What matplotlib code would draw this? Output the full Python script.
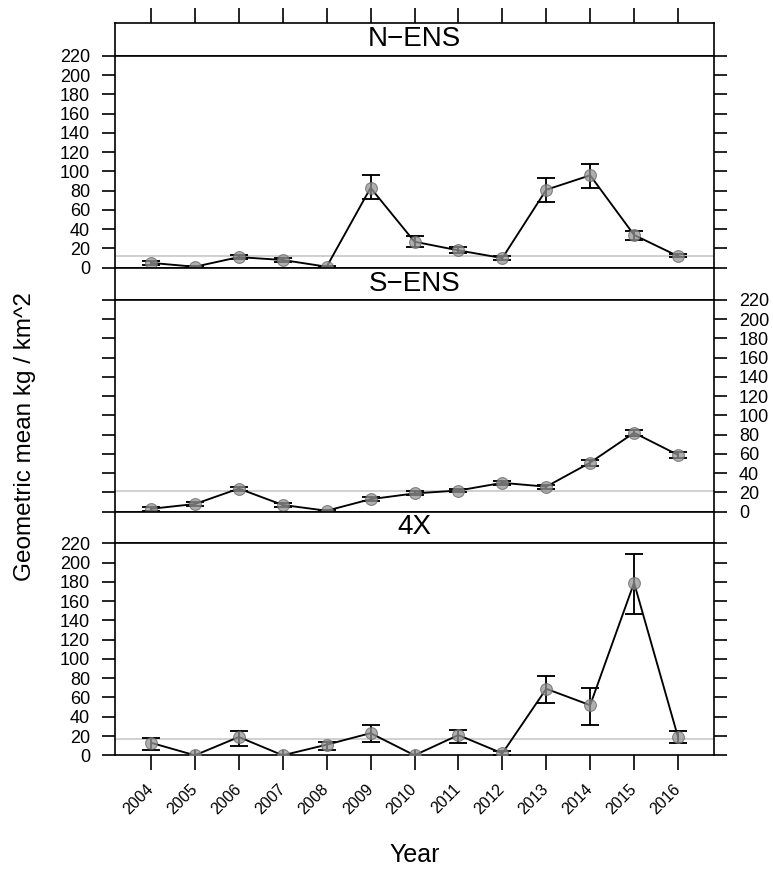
import numpy as np
import matplotlib.pyplot as plt

plt.rcParams['font.family'] = ['Liberation Sans', 'DejaVu Sans']

years = np.arange(2004, 2017)
year_labels = [str(y) for y in years]
y_ticks = np.arange(0, 221, 20)

# N-ENS stratum
n_mean = [5, 1, 11, 8, 1, 83, 27, 18, 10, 81, 96, 34, 12]
n_lo = [3, 0, 9, 6, 0, 71, 21, 15, 8, 68, 83, 29, 11]
n_hi = [7, 2, 13, 10, 2, 96, 33, 21, 12, 93, 108, 38, 14]
n_ref = 12.5

# S-ENS stratum
s_mean = [3, 8, 24, 7, 1, 13, 19, 22, 30, 26, 51, 82, 59]
s_lo = [1, 6, 22, 5, 0, 11, 17, 20, 28, 24, 48, 79, 56]
s_hi = [5, 10, 26, 9, 2, 15, 21, 24, 32, 28, 54, 85, 62]
s_ref = 21

# 4X stratum
x_mean = [13, 0, 19, 0, 11, 23, 0, 21, 2, 69, 52, 179, 19]
x_lo = [6, 0, 10, 0, 6, 14, 0, 13, 0, 54, 31, 147, 13]
x_hi = [18, 6, 25, 6, 14, 31, 6, 26, 4, 82, 70, 209, 25]
x_ref = 16.5

panels = [
    ("N\u2212ENS", n_mean, n_lo, n_hi, n_ref),
    ("S\u2212ENS", s_mean, s_lo, s_hi, s_ref),
    ("4X", x_mean, x_lo, x_hi, x_ref),
]

W, H = 773, 873
fig = plt.figure(figsize=(W / 100, H / 100), dpi=100)

left, right = 115, 714
strips = [(23, 56), (267.7, 300), (511.7, 543.3)]
bodies = [(56, 267.7), (300, 511.7), (543.3, 755.3)]
xlim = (2003.18, 2016.82)
lw = 1.2    # frame and ticks
dlw = 1.35  # data lines and error bars


def box(top, bottom):
    return [left / W, 1 - bottom / H, (right - left) / W, (bottom - top) / H]


for i, (name, mean, lo, hi, ref) in enumerate(panels):
    # strip with panel name
    sax = fig.add_axes(box(*strips[i]))
    sax.set_xlim(xlim)
    sax.set_yticks([])
    for sp in sax.spines.values():
        sp.set_linewidth(lw)
    if i == 0:
        sax.set_xticks(years)
        sax.tick_params(axis='x', top=True, bottom=False, labeltop=False,
                        labelbottom=False, direction='out', length=10.5, width=lw)
    else:
        sax.set_xticks([])
    sax.text(0.5, 0.5, name, transform=sax.transAxes, ha='center', va='center',
             fontsize=20)

    ax = fig.add_axes(box(*bodies[i]))
    mean = np.array(mean, dtype=float)
    lo = np.array(lo, dtype=float)
    hi = np.array(hi, dtype=float)

    ax.axhline(ref, color='#c8c8c8', lw=lw, zorder=1)
    ax.plot(years, mean, color='black', lw=dlw, zorder=2)

    pos = mean > 0
    ax.errorbar(years[pos], mean[pos], yerr=[mean[pos] - lo[pos], hi[pos] - mean[pos]],
                fmt='none', ecolor='black', elinewidth=dlw, capsize=6.5,
                capthick=dlw, zorder=3)
    ax.vlines(years[~pos], lo[~pos], hi[~pos], color='black', lw=dlw, zorder=3)

    ax.plot(years, mean, 'o', ms=8.5, mfc='#949494', mec='#666666', mew=0.8,
            alpha=0.75, ls='none', zorder=4)

    ax.set_xlim(xlim)
    ax.set_ylim(0, 220)
    ax.set_yticks(y_ticks)
    for sp in ax.spines.values():
        sp.set_linewidth(lw)

    label_left = i != 1
    ax.tick_params(axis='y', left=True, right=True, labelleft=label_left,
                   labelright=not label_left, direction='out', length=9.4,
                   width=lw, labelsize=13, pad=8.5)

    if i == 2:
        ax.set_xticks(years)
        ax.set_xticklabels(year_labels, rotation=45, rotation_mode='anchor',
                           ha='right', va='center')
        ax.tick_params(axis='x', bottom=True, top=False, direction='out',
                       length=10.5, width=lw, labelsize=11.5, pad=12)
    else:
        ax.set_xticks([])

fig.text(25 / W, 1 - 437 / H, "Geometric mean kg / km^2", rotation=90,
         ha='center', va='center', fontsize=17.5)
fig.text(415 / W, 1 - 855 / H, "Year", ha='center', va='center', fontsize=18)

fig.savefig("out.png", dpi=100)
